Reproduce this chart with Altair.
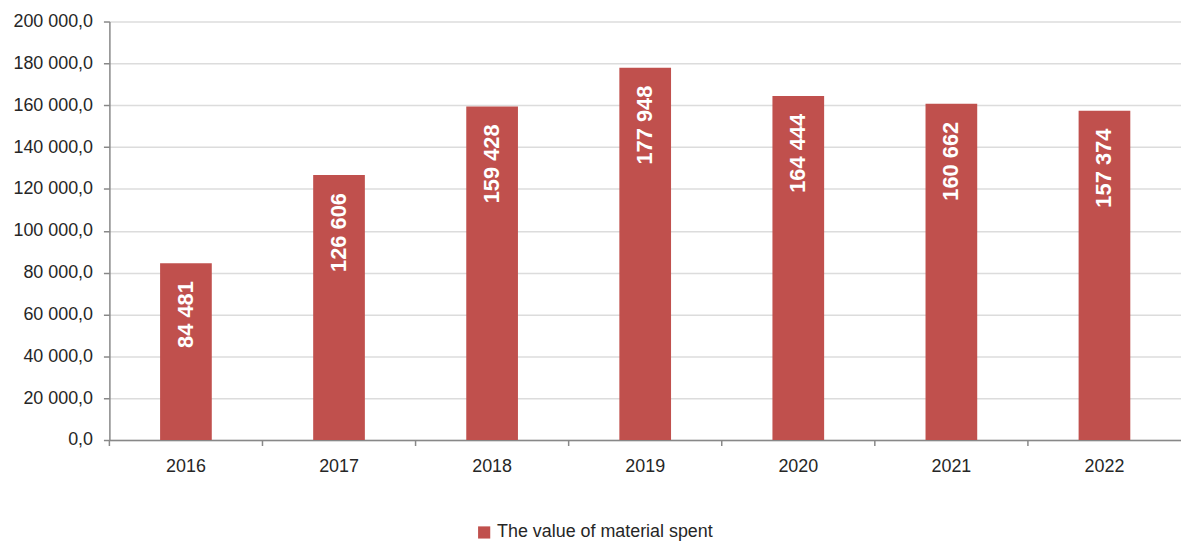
import altair as alt
import pandas as pd

years = ["2016", "2017", "2018", "2019", "2020", "2021", "2022"]
values = [84481, 126606, 159428, 177948, 164444, 160662, 157374]
series_name = "The value of material spent"
y_ticks = [0, 20000, 40000, 60000, 80000, 100000, 120000, 140000, 160000, 180000, 200000]

df = pd.DataFrame({"year": years, "value": values, "series": [series_name] * len(years)})

FONT = "Liberation Sans"
BAR = "#C0504D"

base = alt.Chart(df)

x_enc = alt.X(
    "year:O",
    title=None,
    sort=years,
    scale=alt.Scale(paddingInner=0, paddingOuter=0),
    axis=alt.Axis(
        labelAngle=0, ticks=False, labelPadding=18, labelFontSize=18, labelFont=FONT,
        labelColor="#262626", domainColor="#888888", domainWidth=1.5,
    ),
)

y_enc = alt.Y(
    "value:Q",
    title=None,
    scale=alt.Scale(domain=[0, 200000], nice=False),
    axis=alt.Axis(
        values=y_ticks,
        labelExpr="replace(replace(format(datum.value, ',.1f'), ',', ' '), '.', ',')",
        labelFontSize=18, labelFont=FONT, labelColor="#262626", labelPadding=11,
        tickSize=6, tickColor="#888888", tickWidth=1.5,
        domainColor="#888888", domainWidth=1.5,
        grid=True, gridColor="#dcdcdc", gridWidth=1.5,
    ),
)

bars = base.mark_bar(width=52).encode(
    x=x_enc,
    y=y_enc,
    color=alt.Color(
        "series:N",
        title=None,
        scale=alt.Scale(range=[BAR]),
        legend=alt.Legend(
            orient="none", legendX=368, legendY=505,
            symbolType="square", symbolSize=150, symbolStrokeWidth=0,
            labelFontSize=18, labelFont=FONT, labelColor="#262626", labelLimit=0,
        ),
    ),
)

labels = base.mark_text(
    angle=270, align="right", baseline="middle", dx=-18,
    color="white", fontSize=22, fontWeight="bold", font=FONT,
).transform_calculate(
    label="replace(format(datum.value, ','), ',', ' ')"
).encode(
    x=alt.X("year:O", sort=years),
    y=alt.Y("value:Q"),
    text="label:N",
)

xticks = base.mark_rule(color="#888888", strokeWidth=1.5).encode(
    x=alt.X("year:O", sort=years, bandPosition=0),
    y=alt.value(421),
    y2=alt.value(427),
)

chart = alt.layer(bars, labels, xticks).properties(
    width=1078, height=421,
    padding={"top": 3, "left": 4, "right": 0, "bottom": 0},
).configure_view(stroke=None)

chart.save("out.html", embed_options={"renderer": "svg", "actions": False})
